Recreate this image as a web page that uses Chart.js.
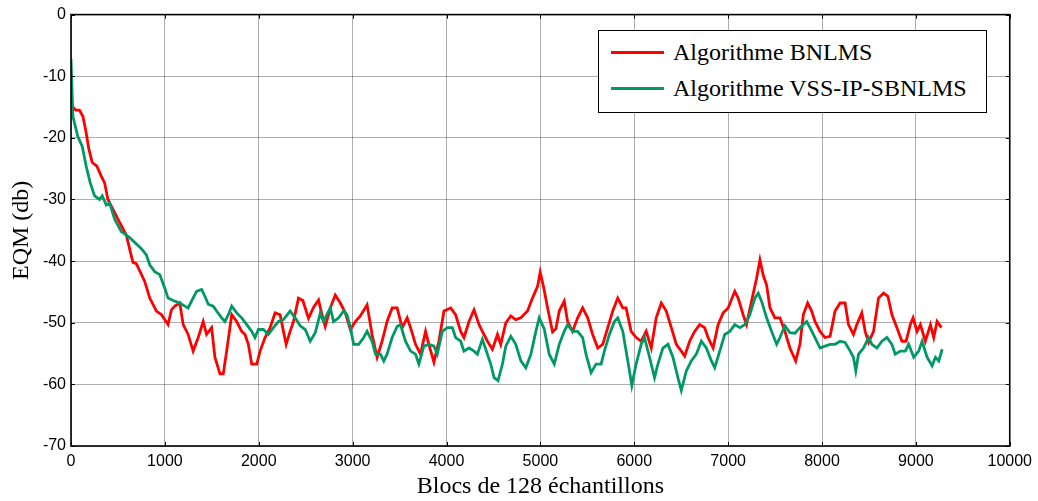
<!DOCTYPE html>
<html>
<head>
<meta charset="utf-8">
<script src="https://cdn.jsdelivr.net/npm/chart.js@4/dist/chart.umd.min.js"></script>
<style>
    body { margin: 0; background: #fff; }
    #wrap { position: relative; width: 1038px; height: 501px; }
    #legend {
        position: absolute; left: 598px; top: 30px; width: 387px; height: 78px;
        border: 1.5px solid #000; background: #fff; padding-top: 3px; box-sizing: content-box;
        font-family: "Liberation Serif", "Times New Roman", serif; font-size: 24px; color: #000;
    }
    #legend .row { height: 36px; line-height: 36px; display: flex; align-items: center; white-space: nowrap; }
    #legend .swatch { display: inline-block; width: 53px; height: 3px; margin-left: 12px; margin-right: 9px; }
</style>
</head>
<body>
<div id="wrap">
    <canvas id="chart" width="1038" height="501"></canvas>
    <div id="legend"></div>
</div>
<script>
const seriesNames = ['Algorithme BNLMS', 'Algorithme VSS-IP-SBNLMS']
const seriesColors = ['#ff0000', '#009966']

const bnlmsX = [
    0, 20, 50, 90, 126, 155, 190, 226, 276, 322,
    358, 393, 447, 518, 590, 632, 660, 696, 785, 839,
    910, 964, 1034, 1070, 1106, 1159, 1195, 1248, 1301, 1355,
    1408, 1444, 1498, 1533, 1587, 1622, 1658, 1712, 1765, 1818,
    1854, 1889, 1925, 1979, 2014, 2067, 2121, 2174, 2228, 2263,
    2292, 2334, 2370, 2423, 2470, 2530, 2583, 2637, 2673, 2708,
    2762, 2815, 2869, 2922, 2976, 3029, 3082, 3154, 3207, 3261,
    3314, 3367, 3421, 3474, 3528, 3581, 3617, 3670, 3723, 3777,
    3812, 3866, 3919, 3973, 4044, 4097, 4151, 4186, 4240, 4293,
    4347, 4382, 4436, 4489, 4543, 4578, 4632, 4685, 4738, 4792,
    4863, 4916, 4970, 4998, 5034, 5077, 5130, 5165, 5201, 5254,
    5290, 5343, 5397, 5450, 5504, 5557, 5611, 5664, 5718, 5771,
    5824, 5878, 5913, 5967, 6020, 6074, 6127, 6181, 6234, 6288,
    6341, 6395, 6448, 6501, 6537, 6590, 6643, 6697, 6750, 6786,
    6840, 6893, 6947, 7000, 7071, 7107, 7160, 7196, 7249, 7303,
    7339, 7374, 7410, 7446, 7498, 7552, 7605, 7658, 7720, 7765,
    7801, 7847, 7890, 7925, 7979, 8032, 8086, 8139, 8193, 8246,
    8282, 8335, 8371, 8424, 8460, 8496, 8549, 8602, 8656, 8702,
    8745, 8798, 8852, 8895, 8941, 8970, 9012, 9048, 9101, 9155,
    9190, 9226, 9272
]
const bnlmsY = [
    -13.9, -15.0, -15.5, -15.5, -16.5, -18.6, -21.8, -24.0, -24.6, -26.2,
    -27.3, -30.0, -31.6, -33.7, -35.8, -38.5, -40.2, -40.4, -43.3, -46.0,
    -48.1, -48.7, -50.3, -47.9, -47.3, -46.8, -50.3, -51.9, -54.6, -52.4,
    -49.8, -51.9, -50.8, -55.6, -58.3, -58.3, -54.6, -48.7, -49.8, -51.4,
    -51.9, -53.5, -56.7, -56.7, -54.6, -52.4, -50.8, -48.4, -48.7, -51.4,
    -53.5, -51.4, -49.8, -46.0, -46.4, -49.3, -47.5, -46.3, -48.7, -50.6,
    -47.6, -45.5, -46.8, -48.4, -51.1, -49.8, -48.9, -47.1, -51.9, -55.6,
    -53.0, -49.8, -47.6, -47.6, -50.8, -49.2, -50.8, -53.5, -55.1, -51.4,
    -53.5, -56.4, -53.0, -48.1, -47.6, -48.7, -51.4, -52.4, -49.8, -47.9,
    -50.3, -51.4, -53.0, -54.3, -51.9, -53.5, -50.0, -48.9, -49.5, -49.2,
    -48.1, -46.0, -44.1, -41.8, -44.2, -47.6, -51.5, -51.0, -48.1, -46.5,
    -49.8, -51.4, -49.2, -47.6, -49.2, -51.9, -54.1, -53.5, -50.8, -48.1,
    -46.0, -47.6, -47.6, -51.4, -52.4, -53.0, -51.4, -54.1, -49.2, -46.8,
    -48.1, -50.8, -53.5, -54.6, -55.4, -53.0, -51.4, -50.3, -50.8, -52.4,
    -54.1, -50.3, -48.4, -47.6, -44.9, -46.0, -48.7, -50.3, -46.5, -42.8,
    -39.8, -42.3, -43.9, -47.6, -49.2, -49.2, -51.4, -54.1, -56.2, -53.5,
    -48.7, -46.8, -48.1, -49.8, -51.4, -52.4, -52.2, -48.1, -46.8, -46.8,
    -50.3, -51.9, -50.3, -48.4, -51.4, -53.2, -51.4, -46.0, -45.2, -45.7,
    -48.7, -50.8, -53.0, -53.0, -50.3, -49.2, -51.4, -50.3, -53.0, -50.3,
    -52.4, -49.8, -50.8
]

const vssX = [
    0, 20, 73, 120, 162, 205, 251, 304, 333, 376,
    412, 465, 536, 625, 750, 803, 839, 892, 946, 999,
    1034, 1106, 1159, 1213, 1248, 1284, 1337, 1391, 1426, 1462,
    1515, 1551, 1605, 1640, 1676, 1712, 1765, 1818, 1872, 1925,
    1960, 1996, 2050, 2103, 2156, 2210, 2263, 2334, 2388, 2441,
    2495, 2548, 2602, 2655, 2690, 2726, 2762, 2797, 2851, 2904,
    2940, 2976, 3011, 3065, 3118, 3154, 3207, 3243, 3296, 3332,
    3367, 3421, 3474, 3510, 3563, 3617, 3670, 3706, 3759, 3812,
    3866, 3902, 3955, 4009, 4062, 4097, 4151, 4186, 4240, 4293,
    4329, 4382, 4418, 4471, 4507, 4549, 4596, 4632, 4685, 4738,
    4792, 4845, 4899, 4952, 4988, 5041, 5094, 5148, 5201, 5254,
    5290, 5343, 5397, 5450, 5486, 5540, 5593, 5647, 5682, 5735,
    5789, 5824, 5878, 5913, 5949, 5974, 6020, 6074, 6109, 6163,
    6216, 6252, 6305, 6359, 6412, 6465, 6501, 6555, 6608, 6661,
    6715, 6768, 6822, 6857, 6911, 6964, 7018, 7071, 7125, 7178,
    7231, 7285, 7321, 7356, 7410, 7463, 7517, 7552, 7605, 7658,
    7712, 7765, 7837, 7872, 7925, 7979, 8032, 8086, 8139, 8193,
    8246, 8300, 8335, 8360, 8389, 8442, 8496, 8531, 8585, 8638,
    8692, 8745, 8780, 8834, 8887, 8923, 8977, 9030, 9066, 9119,
    9173, 9208, 9244, 9280
]
const vssY = [
    -7.2, -16.5, -19.8, -21.4, -24.6, -27.3, -29.4, -30.0, -29.4, -30.9,
    -30.6, -33.2, -35.2, -36.2, -38.0, -39.0, -40.6, -41.7, -42.2, -44.4,
    -46.0, -46.5, -46.8, -47.3, -47.6, -46.5, -44.9, -44.6, -45.7, -47.0,
    -47.3, -48.1, -49.2, -49.8, -48.7, -47.3, -48.4, -49.2, -50.3, -51.4,
    -52.4, -51.1, -51.1, -51.9, -50.8, -49.8, -49.5, -48.1, -49.2, -50.5,
    -51.1, -53.0, -51.6, -48.5, -49.8, -48.7, -47.6, -49.8, -49.2, -48.1,
    -48.7, -50.8, -53.5, -53.5, -52.4, -51.4, -53.0, -55.1, -55.1, -56.2,
    -55.1, -52.4, -50.6, -50.3, -53.0, -54.6, -55.1, -56.7, -53.8, -53.5,
    -53.8, -55.1, -51.4, -50.8, -50.8, -52.4, -53.0, -54.6, -54.1, -54.6,
    -55.1, -52.7, -54.3, -56.7, -58.9, -59.4, -56.7, -53.8, -52.2, -53.5,
    -56.2, -57.3, -55.1, -51.4, -49.2, -51.0, -55.1, -56.7, -53.5, -51.4,
    -50.3, -51.4, -51.4, -52.4, -55.1, -58.1, -56.7, -56.7, -54.6, -51.9,
    -49.8, -49.2, -51.4, -54.6, -57.8, -60.2, -56.7, -53.5, -52.4, -55.6,
    -58.9, -56.7, -54.1, -53.5, -55.6, -58.9, -61.0, -57.8, -56.2, -55.1,
    -53.0, -54.1, -56.2, -57.3, -54.6, -51.9, -51.4, -50.3, -50.8, -50.3,
    -48.7, -46.0, -45.2, -46.5, -49.2, -51.4, -53.5, -52.4, -50.5, -51.6,
    -51.7, -50.8, -49.8, -50.8, -52.4, -54.1, -53.8, -53.5, -53.5, -53.0,
    -53.2, -54.6, -55.6, -57.8, -55.1, -54.1, -52.4, -53.5, -54.1, -53.0,
    -52.4, -53.5, -55.1, -54.6, -54.6, -53.5, -55.6, -54.6, -53.0, -55.6,
    -57.0, -55.6, -56.2, -54.3
]

const xTicks = [0, 1000, 2000, 3000, 4000, 5000, 6000, 7000, 8000, 9000, 10000]
const yTicks = [0, -10, -20, -30, -40, -50, -60, -70]

function toPoints(xs, ys) {
    return xs.map((x, i) => ({x: x, y: ys[i]}))
}

// box around the plot + small inward tick marks, like the matlab axes
const boxPlugin = {
    id: 'box',
    afterDraw(chart) {
        const {ctx, chartArea: a, scales} = chart
        ctx.save()
        ctx.strokeStyle = '#000'
        ctx.lineWidth = 1
        ctx.beginPath()
        xTicks.forEach(v => {
            const px = Math.round(scales.x.getPixelForValue(v)) + 0.5
            ctx.moveTo(px, a.bottom); ctx.lineTo(px, a.bottom - 4)
            ctx.moveTo(px, a.top); ctx.lineTo(px, a.top + 4)
        })
        yTicks.forEach(v => {
            const py = Math.round(scales.y.getPixelForValue(v)) + 0.5
            ctx.moveTo(a.left, py); ctx.lineTo(a.left + 4, py)
            ctx.moveTo(a.right, py); ctx.lineTo(a.right - 4, py)
        })
        ctx.stroke()
        ctx.lineWidth = 1.6
        ctx.strokeRect(a.left, a.top, a.right - a.left, a.bottom - a.top)
        ctx.restore()
    }
}

const tickFont = {family: '"Liberation Sans", Arial, sans-serif', size: 16}
const titleFont = {family: '"Liberation Serif", "Times New Roman", serif', size: 24, lineHeight: 1}

const chart = new Chart(document.getElementById('chart'), {
    type: 'line',
    data: {
        datasets: [
            {
                label: seriesNames[0],
                data: toPoints(bnlmsX, bnlmsY),
                borderColor: seriesColors[0],
                borderWidth: 2.8,
                pointRadius: 0,
                tension: 0,
                order: 2
            },
            {
                label: seriesNames[1],
                data: toPoints(vssX, vssY),
                borderColor: seriesColors[1],
                borderWidth: 2.8,
                pointRadius: 0,
                tension: 0,
                order: 1
            }
        ]
    },
    options: {
        responsive: false,
        animation: false,
        layout: {padding: {left: 0, top: 10, right: 28, bottom: 0}},
        plugins: {
            legend: {display: false},
            tooltip: {enabled: false}
        },
        scales: {
            x: {
                type: 'linear',
                min: 0,
                max: 10000,
                afterFit: s => { s.height = 55 },
                afterBuildTicks: s => { s.ticks = xTicks.map(v => ({value: v})) },
                grid: {color: 'rgba(0,0,0,0.32)', lineWidth: 1, drawTicks: false},
                border: {display: false},
                ticks: {
                    color: '#000',
                    font: tickFont,
                    padding: 6,
                    maxRotation: 0,
                    callback: v => String(v)
                },
                title: {
                    display: true,
                    text: 'Blocs de 128 échantillons',
                    color: '#000',
                    font: titleFont,
                    padding: {top: 0, bottom: 2}
                }
            },
            y: {
                min: -70,
                max: 0,
                afterFit: s => { s.width = 71 },
                afterBuildTicks: s => { s.ticks = yTicks.map(v => ({value: v})) },
                grid: {color: 'rgba(0,0,0,0.32)', lineWidth: 1, drawTicks: false},
                border: {display: false},
                ticks: {color: '#000', font: tickFont, padding: 5, callback: v => String(v)},
                title: {
                    display: true,
                    text: 'EQM (db)',
                    color: '#000',
                    font: titleFont,
                    padding: {top: 10, bottom: 0}
                }
            }
        }
    },
    plugins: [boxPlugin]
})

// legend box in the upper right, built from the datasets
const legend = document.getElementById('legend')
chart.data.datasets.forEach(ds => {
    const row = document.createElement('div')
    row.className = 'row'
    const sw = document.createElement('span')
    sw.className = 'swatch'
    sw.style.background = ds.borderColor
    row.appendChild(sw)
    row.appendChild(document.createTextNode(ds.label))
    legend.appendChild(row)
})
</script>
</body>
</html>
